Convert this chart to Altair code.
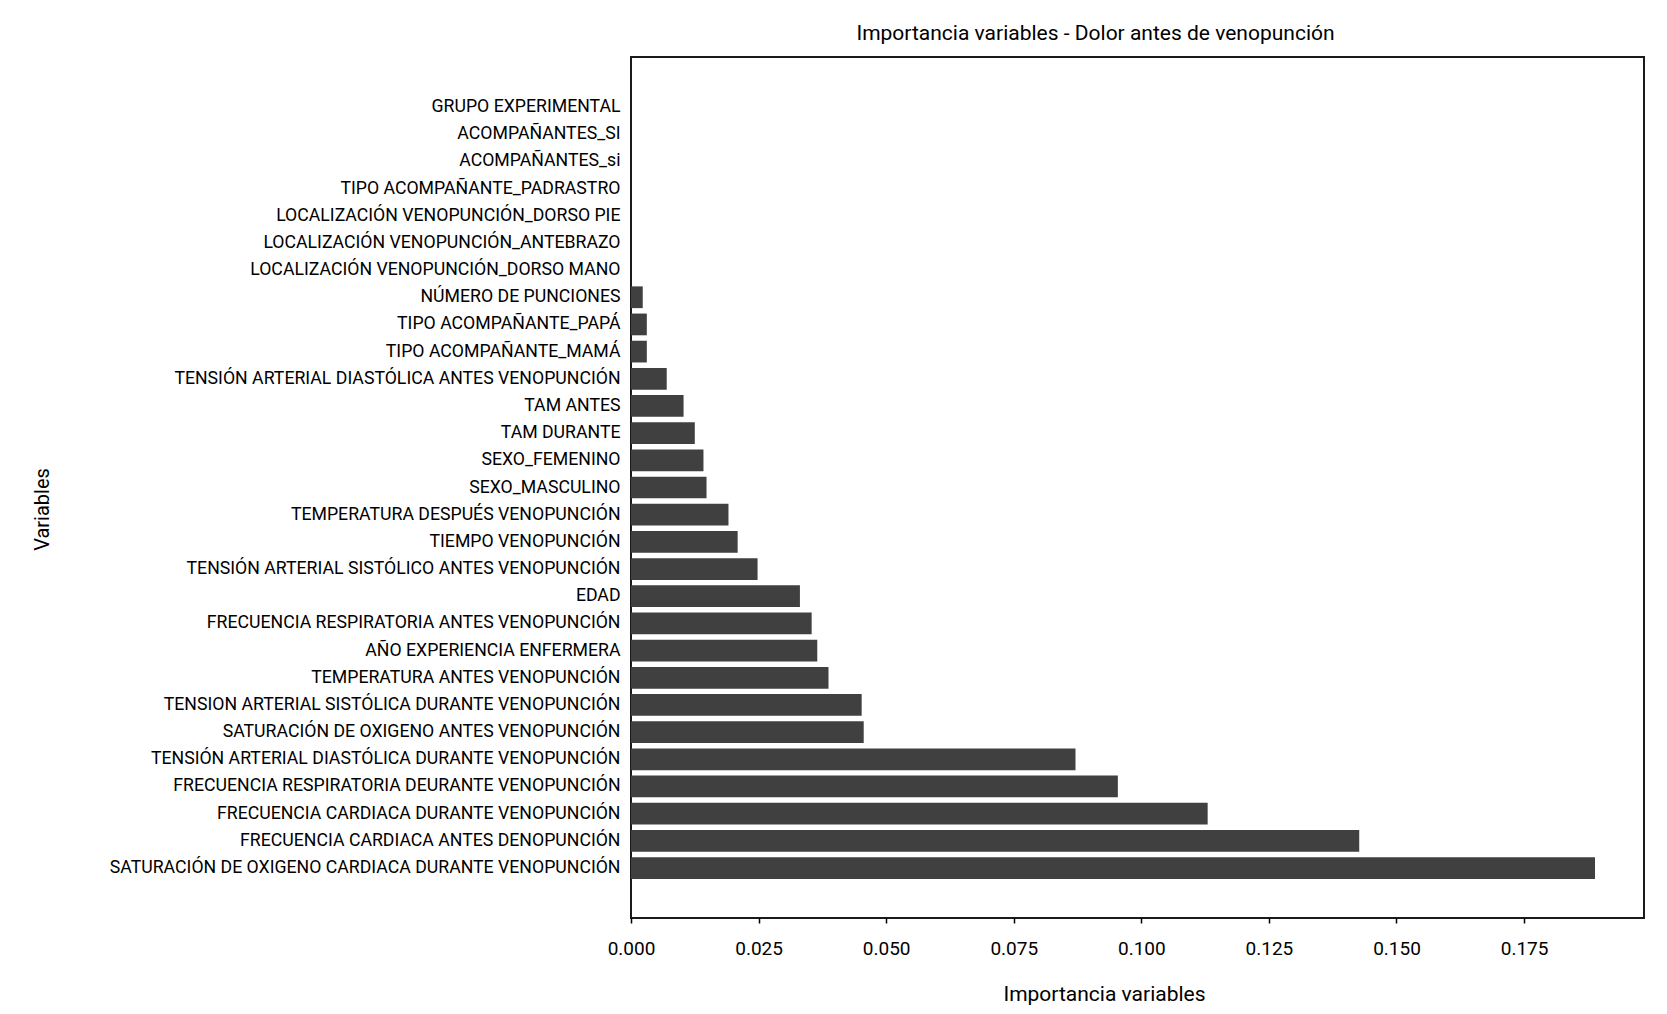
import altair as alt
import pandas as pd

variables = [
    "GRUPO EXPERIMENTAL",
    "ACOMPAÑANTES_SI",
    "ACOMPAÑANTES_si",
    "TIPO ACOMPAÑANTE_PADRASTRO",
    "LOCALIZACIÓN VENOPUNCIÓN_DORSO PIE",
    "LOCALIZACIÓN VENOPUNCIÓN_ANTEBRAZO",
    "LOCALIZACIÓN VENOPUNCIÓN_DORSO MANO",
    "NÚMERO DE PUNCIONES",
    "TIPO ACOMPAÑANTE_PAPÁ",
    "TIPO ACOMPAÑANTE_MAMÁ",
    "TENSIÓN ARTERIAL DIASTÓLICA ANTES VENOPUNCIÓN",
    "TAM ANTES",
    "TAM DURANTE",
    "SEXO_FEMENINO",
    "SEXO_MASCULINO",
    "TEMPERATURA DESPUÉS VENOPUNCIÓN",
    "TIEMPO VENOPUNCIÓN",
    "TENSIÓN ARTERIAL SISTÓLICO ANTES VENOPUNCIÓN",
    "EDAD",
    "FRECUENCIA RESPIRATORIA ANTES VENOPUNCIÓN",
    "AÑO EXPERIENCIA ENFERMERA",
    "TEMPERATURA ANTES VENOPUNCIÓN",
    "TENSION ARTERIAL SISTÓLICA DURANTE VENOPUNCIÓN",
    "SATURACIÓN DE OXIGENO ANTES VENOPUNCIÓN",
    "TENSIÓN ARTERIAL DIASTÓLICA DURANTE VENOPUNCIÓN",
    "FRECUENCIA RESPIRATORIA DEURANTE VENOPUNCIÓN",
    "FRECUENCIA CARDIACA DURANTE VENOPUNCIÓN",
    "FRECUENCIA CARDIACA ANTES DENOPUNCIÓN",
    "SATURACIÓN DE OXIGENO CARDIACA DURANTE VENOPUNCIÓN",
]
importancia = [
    0.0, 0.0, 0.0, 0.0, 0.0, 0.0, 0.0,
    0.0023, 0.0031, 0.0031, 0.0070, 0.0103, 0.0125, 0.0142, 0.0148,
    0.0191, 0.0209, 0.0248, 0.0331, 0.0354, 0.0365, 0.0387, 0.0452,
    0.0456, 0.0871, 0.0954, 0.1130, 0.1427, 0.1889,
]
x_ticks = [0.0, 0.025, 0.05, 0.075, 0.1, 0.125, 0.15, 0.175]

df = pd.DataFrame({"variable": variables, "importancia": importancia})

FONT = "Roboto"
W, H = 1013, 861

chart = (
    alt.Chart(df)
    .mark_bar(color="#404040")
    .encode(
        x=alt.X(
            "importancia:Q",
            scale=alt.Scale(domain=[0, 0.1985], nice=False, zero=True),
            axis=alt.Axis(
                title="Importancia variables",
                values=x_ticks,
                format=".3f",
                grid=False,
                domain=False,
                ticks=True,
                tickSize=5,
                tickWidth=1.5,
                tickColor="#000000",
                labelFont=FONT,
                labelFontSize=19,
                labelColor="#000000",
                labelPadding=16,
                labelFlush=False,
                titleFont=FONT,
                titleFontSize=21,
                titleFontWeight="normal",
                titleColor="#000000",
                titleX=473,
                titleY=76,
                titleBaseline="middle",
                titleAlign="center",
            ),
        ),
        y=alt.Y(
            "variable:N",
            sort=variables,
            scale=alt.Scale(paddingInner=0.2, paddingOuter=0.1, range=[36.4, 824.6]),
            axis=alt.Axis(
                title="Variables",
                grid=False,
                domain=False,
                ticks=False,
                labelFont=FONT,
                labelFontSize=17.7,
                labelColor="#000000",
                labelPadding=11,
                labelLimit=800,
                titleFont=FONT,
                titleFontSize=20,
                titleFontWeight="normal",
                titleColor="#000000",
                titleX=-589,
                titleY=452,
                titleAngle=270,
                titleBaseline="middle",
                titleAlign="center",
            ),
        ),
    )
    .properties(
        width=W,
        height=H,
        background="white",
        title=alt.TitleParams(
            "Importancia variables - Dolor antes de venopunción",
            font=FONT,
            fontSize=21,
            fontWeight="normal",
            color="#000000",
            anchor="middle",
            dx=-42,
            offset=2,
            baseline="middle",
        ),
        autosize=alt.AutoSizeParams(type="none"),
        padding={"left": 623, "top": 49, "right": 15, "bottom": 88},
    )
    .configure_view(stroke="#1a1a1a", strokeWidth=2)
)

chart.save("out.html", embed_options={"renderer": "svg", "actions": False})
